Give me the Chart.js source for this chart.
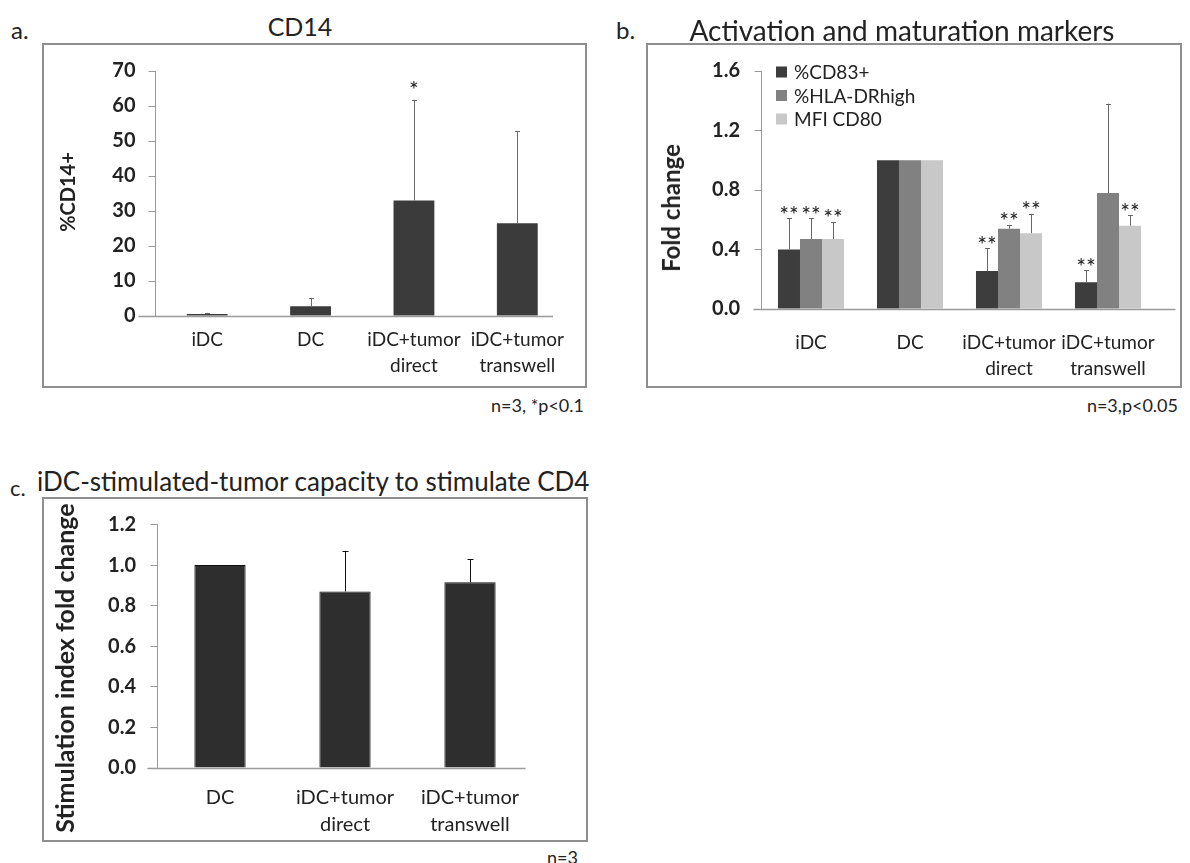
<!DOCTYPE html>
<html>
<head>
<meta charset="utf-8">
<script src="https://cdn.jsdelivr.net/npm/chart.js@4.4.1/dist/chart.umd.min.js"></script>
<style>
  html, body { margin: 0; padding: 0; background: #fff; }
  body { width: 1190px; height: 863px; position: relative; overflow: hidden;
         font-family: Lato, "Open Sans", sans-serif; color: #222; }
  canvas { position: absolute; }
  .box { position: absolute; border: 2px solid #8e8e8e; box-sizing: border-box; pointer-events: none; }
  .txt { position: absolute; white-space: nowrap; line-height: 1; transform: translate(-50%, -50%); }
  .right { transform: translate(-100%, -50%); }
  .left { transform: translate(0, -50%); }
  .vert { transform: translate(-50%, -50%) rotate(-90deg); font-weight: bold; }
</style>
</head>
<body>

<!-- panel frames -->
<div class="box" style="left:42px; top:43px; width:545px; height:345px;"></div>
<div class="box" style="left:646px; top:43px; width:536px; height:345px;"></div>
<div class="box" style="left:42px; top:497px; width:546px; height:345px;"></div>

<canvas id="cd14" width="542" height="343" style="left:43px; top:44px;"></canvas>
<canvas id="markers" width="533" height="343" style="left:647px; top:44px;"></canvas>
<canvas id="stim" width="544" height="342" style="left:43px; top:498px;"></canvas>

<!-- panel letters and titles -->
<div class="txt left" style="left:11px; top:30px; font-size:24px;">a.</div>
<div class="txt" style="left:300px; top:26px; font-size:25px;">CD14</div>
<div class="txt left" style="left:616px; top:30px; font-size:24px;">b.</div>
<div class="txt" style="left:902px; top:30px; font-size:28px;">Activation and maturation markers</div>
<div class="txt left" style="left:10px; top:488px; font-size:22px;">c.</div>
<div class="txt left" style="left:37px; top:481px; font-size:26px;">iDC-stimulated-tumor capacity to stimulate CD4</div>

<!-- value axis titles -->
<div class="txt vert" style="left:67px; top:192px; font-size:20px;">%CD14+</div>
<div class="txt vert" style="left:671px; top:208px; font-size:24px;">Fold change</div>
<div class="txt vert" style="left:64px; top:668px; font-size:25px;">Stimulation index fold change</div>

<!-- sample size notes -->
<div class="txt right" style="left:584px; top:405px; font-size:18px;">n=3, *p&lt;0.1</div>
<div class="txt right" style="left:1178px; top:405px; font-size:18px;">n=3,p&lt;0.05</div>
<div class="txt right" style="left:578px; top:857px; font-size:18px;">n=3</div>

<script>
// ---- CD14 panel ----
const cd14Categories = ['iDC', 'DC', ['iDC+tumor', 'direct'], ['iDC+tumor', 'transwell']];
const cd14Values = [0.6, 2.8, 33.0, 26.5];
const cd14Errors = [0.3, 2.4, 28.8, 26.4];
const cd14Stars = ['', '', '*', ''];
const cd14YTicks = [0, 10, 20, 30, 40, 50, 60, 70];

// ---- activation / maturation markers panel ----
const markerCategories = ['iDC', 'DC', ['iDC+tumor', 'direct'], ['iDC+tumor', 'transwell']];
const cd83Values = [0.40, 1.00, 0.255, 0.18];
const cd83Errors = [0.21, 0, 0.155, 0.08];
const cd83Stars = ['**', '', '**', '**'];
const hlaValues = [0.47, 1.00, 0.54, 0.78];
const hlaErrors = [0.14, 0, 0.025, 0.60];
const hlaStars = ['**', '', '**', ''];
const cd80Values = [0.47, 1.00, 0.51, 0.56];
const cd80Errors = [0.115, 0, 0.13, 0.07];
const cd80Stars = ['**', '', '**', '**'];
const markerYTicks = [0, 0.4, 0.8, 1.2, 1.6];

// ---- CD4 stimulation panel ----
const stimCategories = ['DC', ['iDC+tumor', 'direct'], ['iDC+tumor', 'transwell']];
const stimValues = [1.00, 0.87, 0.915];
const stimErrors = [0, 0.20, 0.115];
const stimYTicks = [0, 0.2, 0.4, 0.6, 0.8, 1.0, 1.2];

Chart.defaults.font.family = "Lato, 'Open Sans', sans-serif";
Chart.defaults.color = '#222';

const AXIS_GREY = '#9a9a9a';

// Baseline, upper error whiskers and significance marks
const errorBars = {
  id: 'errorBars',
  afterDatasetsDraw(chart, args, opts) {
    const { ctx, chartArea, scales: { y } } = chart;
    ctx.save();
    const y0 = Math.round(y.getPixelForValue(0)) + 0.5;
    ctx.strokeStyle = AXIS_GREY;
    ctx.lineWidth = 1.5;
    ctx.beginPath();
    ctx.moveTo(chartArea.left - opts.baseLeft, y0);
    ctx.lineTo(chartArea.right + opts.baseRight, y0);
    ctx.stroke();
    chart.data.datasets.forEach((ds, di) => {
      const meta = chart.getDatasetMeta(di);
      meta.data.forEach((bar, i) => {
        const err = ds.errors ? ds.errors[i] : 0;
        const tip = y.getPixelForValue(ds.data[i] + err);
        if (err > 0) {
          const x = Math.round(bar.x) + 0.5;
          ctx.strokeStyle = opts.errorColor;
          ctx.lineWidth = 1;
          ctx.beginPath();
          ctx.moveTo(x, bar.y);
          ctx.lineTo(x, tip);
          ctx.moveTo(x - opts.capHalf, Math.round(tip) + 0.5);
          ctx.lineTo(x + opts.capHalf, Math.round(tip) + 0.5);
          ctx.stroke();
        }
        const mark = ds.stars ? ds.stars[i] : '';
        if (mark) {
          ctx.fillStyle = '#222';
          ctx.font = opts.starFont;
          ctx.textAlign = 'center';
          ctx.textBaseline = 'alphabetic';
          ctx.fillText(mark, bar.x, tip + opts.starShift);
        }
      });
    });
    ctx.restore();
  }
};

// Legend boxed inside the plot area, top-left
const insideLegend = {
  id: 'insideLegend',
  afterDraw(chart, args, opts) {
    if (!opts.show) return;
    const { ctx, chartArea } = chart;
    ctx.save();
    ctx.font = opts.font;
    ctx.textAlign = 'left';
    ctx.textBaseline = 'middle';
    chart.data.datasets.forEach((ds, i) => {
      const cy = chartArea.top + opts.offsetY + i * opts.rowGap;
      const x = chartArea.left + opts.offsetX;
      ctx.fillStyle = ds.backgroundColor;
      ctx.fillRect(x, cy - opts.box / 2, opts.box, opts.box);
      ctx.fillStyle = '#222';
      ctx.fillText(ds.label, x + opts.box + 7, cy + 1);
    });
    ctx.restore();
  }
};

function valueAxis(ticks, fmt, width, padding) {
  return {
    min: ticks[0],
    max: ticks[ticks.length - 1],
    afterBuildTicks: (scale) => { scale.ticks = ticks.map(v => ({ value: v })); },
    afterFit: (scale) => { scale.width = width; },
    grid: { drawOnChartArea: false, drawTicks: true, tickLength: 7, color: AXIS_GREY, lineWidth: 1 },
    border: { display: true, color: AXIS_GREY, width: 1 },
    ticks: { font: { size: 20, weight: 'bold' }, padding: padding, callback: fmt, color: '#222' },
    title: { display: false }
  };
}

function categoryAxis(height, padding, size) {
  return {
    afterFit: (scale) => { scale.height = height; },
    grid: { display: false },
    border: { display: false },
    ticks: { font: { size: size, lineHeight: 1.35 }, padding: padding, maxRotation: 0, autoSkip: false, color: '#222' }
  };
}

const common = {
  responsive: false,
  animation: false,
  events: []
};

new Chart(document.getElementById('cd14'), {
  type: 'bar',
  data: {
    labels: cd14Categories,
    datasets: [{
      label: '%CD14+',
      data: cd14Values,
      errors: cd14Errors,
      stars: cd14Stars,
      backgroundColor: '#3b3b3b',
      categoryPercentage: 1.0,
      barPercentage: 0.395
    }]
  },
  options: Object.assign({}, common, {
    layout: { padding: { top: 27, right: 16, left: 0, bottom: 0 } },
    scales: {
      x: categoryAxis(71, 3, 19),
      y: valueAxis(cd14YTicks, v => String(v), 112.5, 13)
    },
    plugins: {
      legend: { display: false },
      tooltip: { enabled: false },
      errorBars: { baseLeft: 17, baseRight: -16, errorColor: '#6a6a6a', capHalf: 2.5, starFont: '23px Lato', starShift: -2 },
      insideLegend: { show: false }
    }
  }),
  plugins: [errorBars, insideLegend]
});

new Chart(document.getElementById('markers'), {
  type: 'bar',
  data: {
    labels: markerCategories,
    datasets: [
      { label: '%CD83+', data: cd83Values, errors: cd83Errors, stars: cd83Stars,
        backgroundColor: '#3d3d3d', categoryPercentage: 0.667, barPercentage: 1.0 },
      { label: '%HLA-DRhigh', data: hlaValues, errors: hlaErrors, stars: hlaStars,
        backgroundColor: '#818181', categoryPercentage: 0.667, barPercentage: 1.0 },
      { label: 'MFI CD80', data: cd80Values, errors: cd80Errors, stars: cd80Stars,
        backgroundColor: '#c8c8c8', categoryPercentage: 0.667, barPercentage: 1.0 }
    ]
  },
  options: Object.assign({}, common, {
    layout: { padding: { top: 27, right: 22.5, left: 0, bottom: 0 } },
    scales: {
      x: categoryAxis(78, 13, 19),
      y: valueAxis(markerYTicks, v => v.toFixed(1), 114.5, 14.5)
    },
    plugins: {
      legend: { display: false },
      tooltip: { enabled: false },
      errorBars: { baseLeft: 8, baseRight: 18, errorColor: '#666', capHalf: 2.5, starFont: '23px Lato', starShift: 4.5 },
      insideLegend: { show: true, font: '19px Lato', box: 11, offsetX: 14.5, offsetY: 1, rowGap: 23.5 }
    }
  }),
  plugins: [errorBars, insideLegend]
});

new Chart(document.getElementById('stim'), {
  type: 'bar',
  data: {
    labels: stimCategories,
    datasets: [{
      label: 'Stimulation index fold change',
      data: stimValues,
      errors: stimErrors,
      backgroundColor: '#2e2e2e',
      borderColor: '#111',
      borderWidth: 1,
      categoryPercentage: 1.0,
      barPercentage: 0.41
    }]
  },
  options: Object.assign({}, common, {
    layout: { padding: { top: 25, right: 54.5, left: 0, bottom: 0 } },
    scales: {
      x: categoryAxis(72, 8, 20),
      y: valueAxis(stimYTicks, v => v.toFixed(1), 114.5, 14.5)
    },
    plugins: {
      legend: { display: false },
      tooltip: { enabled: false },
      errorBars: { baseLeft: 10, baseRight: -7, errorColor: '#111', capHalf: 3, starFont: '23px Lato', starShift: 0 },
      insideLegend: { show: false }
    }
  }),
  plugins: [errorBars, insideLegend]
});
</script>
</body>
</html>
